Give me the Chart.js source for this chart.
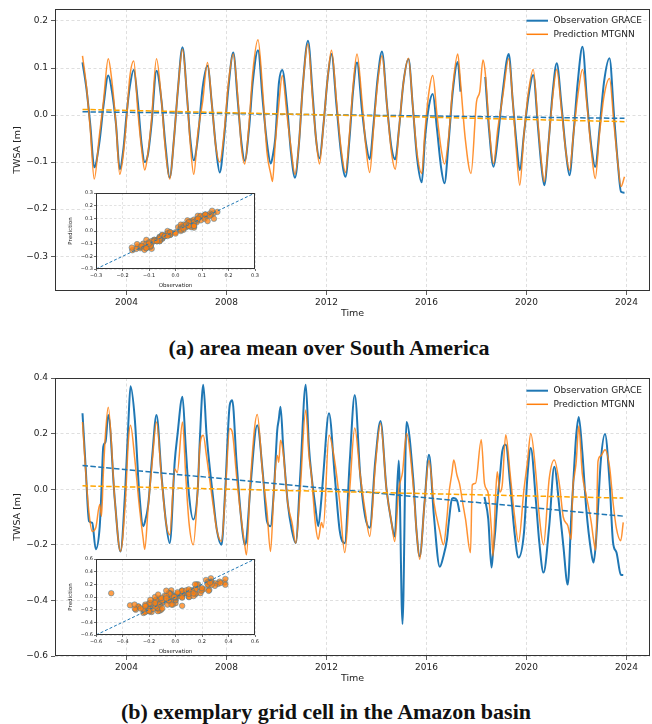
<!DOCTYPE html>
<html>
<head>
<meta charset="utf-8">
<script src="https://cdn.jsdelivr.net/npm/chart.js@4.4.1/dist/chart.umd.min.js"></script>
<style>
  html, body { margin: 0; padding: 0; background: #fff; }
  #page { position: relative; width: 652px; height: 724px; overflow: hidden; }
  .box { position: absolute; }
  .caption {
    position: absolute; left: 0; width: 652px; text-align: center;
    font-family: "Liberation Serif", "DejaVu Serif", serif; font-weight: bold;
    font-size: 22px; line-height: 24px; color: #111;
  }
</style>
</head>
<body>
<div id="page">
  <div class="box" style="left:0;top:0"><canvas id="mainA" width="652" height="325"></canvas></div>
  <div class="box" style="left:60px;top:185px"><canvas id="insetA" width="201" height="110"></canvas></div>
  <div class="caption" style="top:336px;left:3px">(a) area mean over South America</div>
  <div class="box" style="left:0;top:369px"><canvas id="mainB" width="652" height="321"></canvas></div>
  <div class="box" style="left:60px;top:551px"><canvas id="insetB" width="201" height="110"></canvas></div>
  <div class="caption" style="top:700px">(b) exemplary grid cell in the Amazon basin</div>
</div>
<script>
// ---- data ----
const seriesNames = ["Observation GRACE", "Prediction MTGNN"];
const yearTicks = [2004, 2008, 2012, 2016, 2020, 2024];
const ticksA = [-0.3, -0.2, -0.1, 0.0, 0.1, 0.2];
const ticksB = [-0.6, -0.4, -0.2, 0.0, 0.2, 0.4];
const insetTicksA = [-0.3, -0.2, -0.1, 0.0, 0.1, 0.2, 0.3];
const insetTicksB = [-0.6, -0.4, -0.2, 0.0, 0.2, 0.4, 0.6];

// (a) area mean over South America
const timeA = [
  2002.24, 2002.40, 2002.55, 2002.71, 2002.91, 2003.08,
  2003.27, 2003.42, 2003.58, 2003.73, 2003.88, 2004.00, 2004.13,
  2004.29, 2004.45, 2004.60, 2004.73, 2004.86, 2005.00,
  2005.20, 2005.40, 2005.55, 2005.73, 2005.90, 2006.05,
  2006.24, 2006.42, 2006.55, 2006.69, 2006.85, 2007.05,
  2007.24, 2007.42, 2007.58, 2007.73, 2007.90, 2008.08,
  2008.27, 2008.45, 2008.60, 2008.73, 2008.90, 2009.05,
  2009.26, 2009.45, 2009.62, 2009.77, 2009.84, 2009.95, 2010.10,
  2010.23, 2010.42, 2010.58, 2010.74, 2010.90, 2011.05,
  2011.26, 2011.45, 2011.58, 2011.72, 2011.88, 2012.05,
  2012.20, 2012.40, 2012.58, 2012.76, 2012.92, 2013.06,
  2013.22, 2013.42, 2013.58, 2013.73, 2013.88, 2014.05,
  2014.22, 2014.42, 2014.60, 2014.75, 2014.90, 2015.08,
  2015.28, 2015.45, 2015.62, 2015.81, 2015.94, 2016.10,
  2016.25, 2016.42, 2016.58, 2016.72, 2016.88, 2017.05,
  2017.25, 2017.36, 2017.55, 2017.78, 2018.00, 2018.13,
  2018.26, 2018.35, 2018.50, 2018.68, 2018.85, 2019.05,
  2019.29, 2019.45, 2019.60, 2019.73, 2019.90, 2020.08,
  2020.27, 2020.45, 2020.58, 2020.71, 2020.88, 2021.05,
  2021.21, 2021.40, 2021.58, 2021.72, 2021.88, 2022.05,
  2022.24, 2022.42, 2022.60, 2022.75, 2022.92, 2023.10,
  2023.32, 2023.50, 2023.65, 2023.78, 2023.92
];
const obsA = [
  0.112, 0.055, -0.02, -0.111, -0.06, 0.02,
  0.084, 0.05, -0.02, -0.115, -0.07, 0.0, 0.06,
  0.096, 0.03, -0.06, -0.10, -0.083, -0.02,
  0.094, 0.03, -0.06, -0.133, -0.05, 0.05,
  0.144, 0.04, -0.05, -0.096, -0.05, 0.06,
  0.105, 0.02, -0.07, -0.122, -0.05, 0.06,
  0.133, 0.03, -0.06, -0.097, -0.03, 0.07,
  0.138, 0.03, -0.06, -0.103, -0.09, -0.05, 0.07,
  0.096, 0.02, -0.08, -0.133, -0.06, 0.06,
  0.158, 0.04, -0.05, -0.092, -0.02, 0.08,
  0.13, 0.02, -0.08, -0.131, -0.05, 0.05,
  0.112, 0.01, -0.06, -0.094, -0.02, 0.08,
  0.135, 0.02, -0.07, -0.094, -0.03, 0.07,
  0.119, 0.02, -0.09, -0.143, -0.05, 0.02,
  0.045, -0.03, -0.11, -0.145, -0.06, 0.05,
  0.113, 0.05, null, null, null, null,
  null, 0.081, -0.03, -0.11, -0.05, 0.05,
  0.13, 0.03, -0.06, -0.117, -0.04, 0.04,
  0.085, -0.02, -0.10, -0.149, -0.06, 0.05,
  0.11, 0.02, -0.08, -0.128, -0.04, 0.07,
  0.145, 0.03, -0.07, -0.11, -0.03, 0.07,
  0.121, 0.0, -0.10, -0.163, -0.165
];
const predA = [
  0.126, 0.06, -0.03, -0.136, -0.046, 0.03,
  0.12, 0.07, -0.02, -0.126, -0.08, -0.01, 0.08,
  0.115, 0.01, -0.07, -0.117, -0.08, -0.01,
  0.12, 0.03, -0.07, -0.136, -0.05, 0.05,
  0.14, 0.04, -0.06, -0.126, -0.04, 0.03,
  0.112, 0.02, -0.07, -0.10, -0.04, 0.07,
  0.13, 0.04, -0.07, -0.104, -0.02, 0.09,
  0.16, 0.05, -0.08, -0.125, -0.141, -0.06, 0.027,
  0.084, 0.0, -0.07, -0.126, -0.06, 0.06,
  0.151, 0.03, -0.05, -0.104, -0.02, 0.08,
  0.138, 0.03, -0.07, -0.122, -0.04, 0.06,
  0.13, 0.03, -0.07, -0.122, -0.03, 0.07,
  0.126, 0.02, -0.08, -0.115, -0.03, 0.07,
  0.121, 0.02, -0.08, -0.124, -0.033, 0.05,
  0.084, 0.0, -0.07, -0.104, -0.05, 0.06,
  0.13, 0.07, -0.05, -0.124, 0.028, 0.05,
  0.117, 0.09, -0.02, -0.103, -0.03, 0.04,
  0.12, 0.03, -0.08, -0.149, -0.04, 0.05,
  0.097, -0.01, -0.09, -0.142, -0.06, 0.04,
  0.097, 0.01, -0.08, -0.117, -0.04, 0.04,
  0.097, 0.02, -0.08, -0.135, -0.04, 0.04,
  0.078, -0.02, -0.10, -0.152, -0.131
];
const trendTimeA = [2002.24, 2023.92];
const trendObsA = [0.007, -0.007];
const trendPredA = [0.012, -0.014];

// (b) grid cell in the Amazon basin
const timeB = [
  2002.24, 2002.37, 2002.50, 2002.63, 2002.77, 2002.93, 2003.00, 2003.07, 2003.16,
  2003.27, 2003.53, 2003.76, 2003.95, 2004.08,
  2004.16, 2004.33, 2004.50, 2004.67, 2004.73, 2004.87, 2005.03,
  2005.20, 2005.40, 2005.58, 2005.73, 2005.93, 2006.03,
  2006.24, 2006.37, 2006.50, 2006.67, 2006.85, 2006.93,
  2007.07, 2007.20, 2007.47, 2007.62, 2007.80, 2007.95,
  2008.13, 2008.23, 2008.40, 2008.58, 2008.73, 2008.80, 2008.95,
  2009.23, 2009.45, 2009.62, 2009.76, 2009.90, 2010.03, 2010.09,
  2010.16, 2010.27, 2010.45, 2010.62, 2010.77, 2010.95,
  2011.17, 2011.30, 2011.40, 2011.55, 2011.67, 2011.80, 2011.87,
  2012.10, 2012.33, 2012.53, 2012.73, 2012.93,
  2013.13, 2013.35, 2013.55, 2013.73, 2013.95,
  2014.16, 2014.40, 2014.60, 2014.73, 2014.89, 2015.04,
  2015.20, 2015.47, 2015.60, 2015.73, 2015.92,
  2016.10, 2016.30, 2016.53, 2016.68, 2016.82, 2016.89,
  2017.02, 2017.09, 2017.22, 2017.32, 2017.45, 2017.56, 2017.76, 2017.83, 2017.96,
  2018.19, 2018.32, 2018.47, 2018.60, 2018.66, 2018.75, 2018.83, 2018.94, 2019.03,
  2019.17, 2019.35, 2019.52, 2019.68, 2019.90, 2020.04,
  2020.17, 2020.38, 2020.51, 2020.68, 2020.91,
  2021.11, 2021.32, 2021.47, 2021.65, 2021.79, 2021.85, 2021.92, 2021.99,
  2022.09, 2022.23, 2022.39, 2022.59, 2022.68, 2022.77, 2022.86, 2022.97,
  2023.14, 2023.33, 2023.46, 2023.60, 2023.77, 2023.87
];
const obsB = [
  0.273, 0.073, -0.115, -0.121, -0.216, -0.133, 0.0, 0.152, 0.17,
  0.267, -0.036, -0.224, 0.0, 0.25,
  0.37, 0.255, 0.0, -0.133, -0.12, -0.055, 0.12,
  0.267, 0.05, -0.12, -0.194, 0.1, 0.188,
  0.333, 0.15, -0.02, -0.109, 0.0, 0.17,
  0.376, 0.2, -0.036, -0.15, -0.2, 0.0,
  0.303, 0.32, 0.1, -0.1, -0.2, -0.18, 0.0,
  0.23, 0.06, -0.115, -0.133, 0.0, 0.212, 0.25,
  0.297, 0.15, -0.05, -0.15, -0.194, 0.05,
  0.376, 0.15, 0.05, -0.06, -0.133, -0.03, 0.05,
  0.273, 0.048, -0.15, -0.194, 0.1,
  0.339, 0.05, -0.1, -0.139, 0.1,
  0.245, 0.0, -0.12, -0.17, 0.103, -0.485,
  0.242, 0.036, -0.15, -0.242, -0.05,
  0.124, -0.1, -0.279, -0.24, -0.18, -0.12,
  -0.034, -0.032, -0.04, -0.082, null, null, null, null, null,
  null, -0.028, -0.107, -0.282, -0.23, -0.15, -0.05, 0.05, 0.136,
  0.16, 0.015, -0.155, -0.246, -0.155, 0.05,
  0.148, -0.046, -0.19, -0.3, -0.131,
  0.081, -0.07, -0.2, -0.343, -0.1, -0.01, 0.1, 0.196,
  0.26, 0.136, -0.07, -0.228, -0.264, -0.2, -0.07, 0.1,
  0.199, 0.015, -0.19, -0.228, -0.307, -0.309
];
const predB = [
  0.242, 0.06, -0.085, -0.152, -0.139, -0.055, -0.097, 0.05, 0.2,
  0.295, -0.036, -0.224, -0.05, 0.18,
  0.23, 0.11, -0.05, -0.18, -0.216, -0.06, 0.1,
  0.242, 0.04, -0.12, -0.164, 0.073, 0.06,
  0.242, 0.048, -0.12, -0.2, 0.0, 0.15,
  0.194, 0.12, -0.06, -0.15, -0.188, -0.02,
  0.218, 0.206, 0.05, -0.1, -0.2, -0.236, 0.02,
  0.269, 0.05, -0.08, -0.224, 0.0, 0.121, 0.097,
  0.176, 0.13, -0.05, -0.12, -0.194, 0.0,
  0.285, 0.12, 0.048, -0.12, -0.18, -0.12, -0.139,
  0.194, 0.1, -0.048, -0.228, 0.0,
  0.22, 0.05, -0.08, -0.17, 0.08,
  0.236, 0.0, -0.12, -0.188, 0.0, 0.06,
  0.2, 0.012, -0.15, -0.252, -0.05,
  0.103, -0.05, -0.15, -0.2, -0.1, -0.022,
  0.06, 0.105, 0.05, 0.02, -0.05, -0.107, -0.228, 0.015, 0.021,
  0.178, 0.02, -0.016, -0.15, -0.24, -0.05, 0.063, -0.01, 0.015,
  0.196, 0.051, -0.095, -0.19, 0.0, 0.1,
  0.2, 0.051, -0.095, -0.2, 0.039,
  0.105, 0.015, -0.1, -0.131, -0.18, 0.0, 0.051, 0.1,
  0.227, 0.057, -0.022, -0.119, -0.18, -0.22, 0.1, 0.12,
  0.142, 0.075, -0.046, -0.143, -0.185, -0.119
];
const trendTimeB = [2002.24, 2023.87];
const trendObsB = [0.085, -0.097];
const trendPredB = [0.012, -0.032];

// ---- helpers ----
const BLUE = "#1f77b4";
const ORANGE = "#ff7f0e";
const TREND_ORANGE = "#ffa500";
const GRID = "rgba(0,0,0,0.16)";
const INK = "#222";

Chart.defaults.font.family = "'DejaVu Sans', sans-serif";
Chart.defaults.color = INK;

const fmt = (v) => (v < -1e-9 ? "\u2212" : "") + Math.abs(v).toFixed(1);
const pts = (xs, ys) => xs.map((x, i) => ({ x: x, y: ys[i] }));
const pairs = (obs, pred) =>
  obs.map((o, i) => ({ x: o, y: pred[i] })).filter((p) => p.x !== null);

// white axes background + full frame
const framePlugin = {
  id: "frame",
  beforeDraw(chart) {
    const { ctx, chartArea: a } = chart;
    ctx.save();
    ctx.fillStyle = "#fff";
    ctx.fillRect(a.left, a.top, a.width, a.height);
    ctx.restore();
  },
  afterDraw(chart, args, opts) {
    const { ctx, chartArea: a } = chart;
    ctx.save();
    ctx.strokeStyle = "#333";
    ctx.lineWidth = opts.width || 1;
    ctx.strokeRect(Math.round(a.left) + 0.5, Math.round(a.top) + 0.5,
      Math.round(a.width) - 1, Math.round(a.height) - 1);
    ctx.restore();
  },
};

// legend drawn as line samples inside the axes (upper right)
const lineLegend = {
  id: "lineLegend",
  afterDraw(chart, args, opts) {
    if (!opts.items) return;
    const { ctx, chartArea: a } = chart;
    ctx.save();
    ctx.font = "9px 'DejaVu Sans'";
    ctx.textBaseline = "middle";
    ctx.fillStyle = INK;
    opts.items.forEach((it, i) => {
      const y = a.top + opts.top + i * 13.6;
      const x = a.right - 123.5;
      ctx.strokeStyle = it.color;
      ctx.lineWidth = it.width;
      ctx.beginPath();
      ctx.moveTo(x, y);
      ctx.lineTo(x + 21.5, y);
      ctx.stroke();
      ctx.fillText(it.text, x + 27, y);
    });
    ctx.restore();
  },
};

function mainChart(id, time, obs, pred, tTime, tObs, tPred, yMin, yMax, yTicks, legendTop) {
  return new Chart(document.getElementById(id), {
    type: "line",
    data: {
      datasets: [
        { label: seriesNames[0], data: pts(time, obs), borderColor: BLUE, borderWidth: 2,
          cubicInterpolationMode: "monotone", order: 2 },
        { label: seriesNames[1], data: pts(time, pred), borderColor: "rgba(255,127,14,0.85)", borderWidth: 1.5,
          cubicInterpolationMode: "monotone", order: 1 },
        { label: "trend obs", data: pts(tTime, tObs), borderColor: BLUE, borderWidth: 1.5, borderDash: [5.5, 2.4], order: 0 },
        { label: "trend pred", data: pts(tTime, tPred), borderColor: TREND_ORANGE, borderWidth: 1.5, borderDash: [5.5, 2.4], order: -1 },
      ],
    },
    options: {
      responsive: false,
      animation: false,
      elements: { point: { radius: 0 }, line: { tension: 0 } },
      layout: { padding: { top: 9, right: 2, left: 0, bottom: 0 } },
      scales: {
        x: {
          type: "linear",
          min: 2001.14,
          max: 2024.94,
          afterBuildTicks: (s) => { s.ticks = yearTicks.map((v) => ({ value: v })); },
          afterFit: (s) => { s.height = 34; },
          ticks: { font: { size: 9 }, padding: 2, maxRotation: 0, autoSkip: false, callback: (v) => String(v) },
          grid: { color: GRID, tickColor: "#333", tickLength: 4, lineWidth: 0.8 },
          border: { display: false, dash: [3, 2.5] },
          title: { display: true, text: "Time", font: { size: 9.5 }, padding: { top: 0, bottom: 6 } },
        },
        y: {
          min: yMin,
          max: yMax,
          afterBuildTicks: (s) => { s.ticks = yTicks.map((v) => ({ value: v })); },
          afterFit: (s) => { s.width = 55; },
          ticks: { font: { size: 9 }, padding: 3, autoSkip: false, callback: (v) => fmt(v) },
          grid: { color: GRID, tickColor: "#333", tickLength: 4, lineWidth: 0.8 },
          border: { display: false, dash: [3, 2.5] },
          title: { display: true, text: "TWSA [m]", font: { size: 9.5 }, padding: { top: 12, bottom: 0 } },
        },
      },
      plugins: {
        legend: { display: false },
        tooltip: { enabled: false },
        frame: { width: 1 },
        lineLegend: {
          top: legendTop,
          items: [
            { text: seriesNames[0], color: BLUE, width: 2 },
            { text: seriesNames[1], color: ORANGE, width: 1.5 },
          ],
        },
      },
    },
    plugins: [framePlugin, lineLegend],
  });
}

function insetChart(id, obs, pred, ticks) {
  const lo = ticks[0], hi = ticks[ticks.length - 1];
  const axis = (isX) => ({
    type: "linear",
    min: lo,
    max: hi,
    afterBuildTicks: (s) => { s.ticks = ticks.map((v) => ({ value: v })); },
    afterFit: isX ? (s) => { s.height = 26; } : (s) => { s.width = 36; },
    ticks: { font: { size: 5 }, padding: isX ? 2 : 1, maxRotation: 0, autoSkip: false, callback: (v) => fmt(v) },
    grid: { color: GRID, tickColor: "#333", tickLength: 2, lineWidth: 0.7 },
    border: { display: false, dash: [2.5, 2] },
    title: {
      display: true,
      text: isX ? "Observation" : "Prediction",
      font: { size: 5.5 },
      padding: isX ? { top: 0, bottom: 5.7 } : { top: 7.7, bottom: 0 },
    },
  });
  return new Chart(document.getElementById(id), {
    type: "scatter",
    data: {
      datasets: [
        {
          label: "1:1",
          type: "line",
          data: [{ x: lo, y: lo }, { x: hi, y: hi }],
          borderColor: BLUE,
          borderWidth: 1,
          borderDash: [3, 2],
          pointRadius: 0,
          order: 0,
        },
        {
          label: "scatter",
          data: pairs(obs, pred),
          backgroundColor: "rgba(255,127,14,0.75)",
          borderColor: "rgba(31,119,180,0.55)",
          borderWidth: 0.8,
          pointRadius: 2.8,
          order: 1,
        },
      ],
    },
    options: {
      responsive: false,
      animation: false,
      layout: { padding: { top: 8, right: 4, left: 0, bottom: 0 } },
      scales: { x: axis(true), y: axis(false) },
      plugins: { legend: { display: false }, tooltip: { enabled: false }, frame: { width: 1 } },
    },
    plugins: [framePlugin],
  });
}

mainChart("mainA", timeA, obsA, predA, trendTimeA, trendObsA, trendPredA, -0.374, 0.2255, ticksA, 11.7);
mainChart("mainB", timeB, obsB, predB, trendTimeB, trendObsB, trendPredB, -0.6, 0.4, ticksB, 12.7);
insetChart("insetA", obsA, predA, insetTicksA);
insetChart("insetB", obsB, predB, insetTicksB);
</script>
</body>
</html>
